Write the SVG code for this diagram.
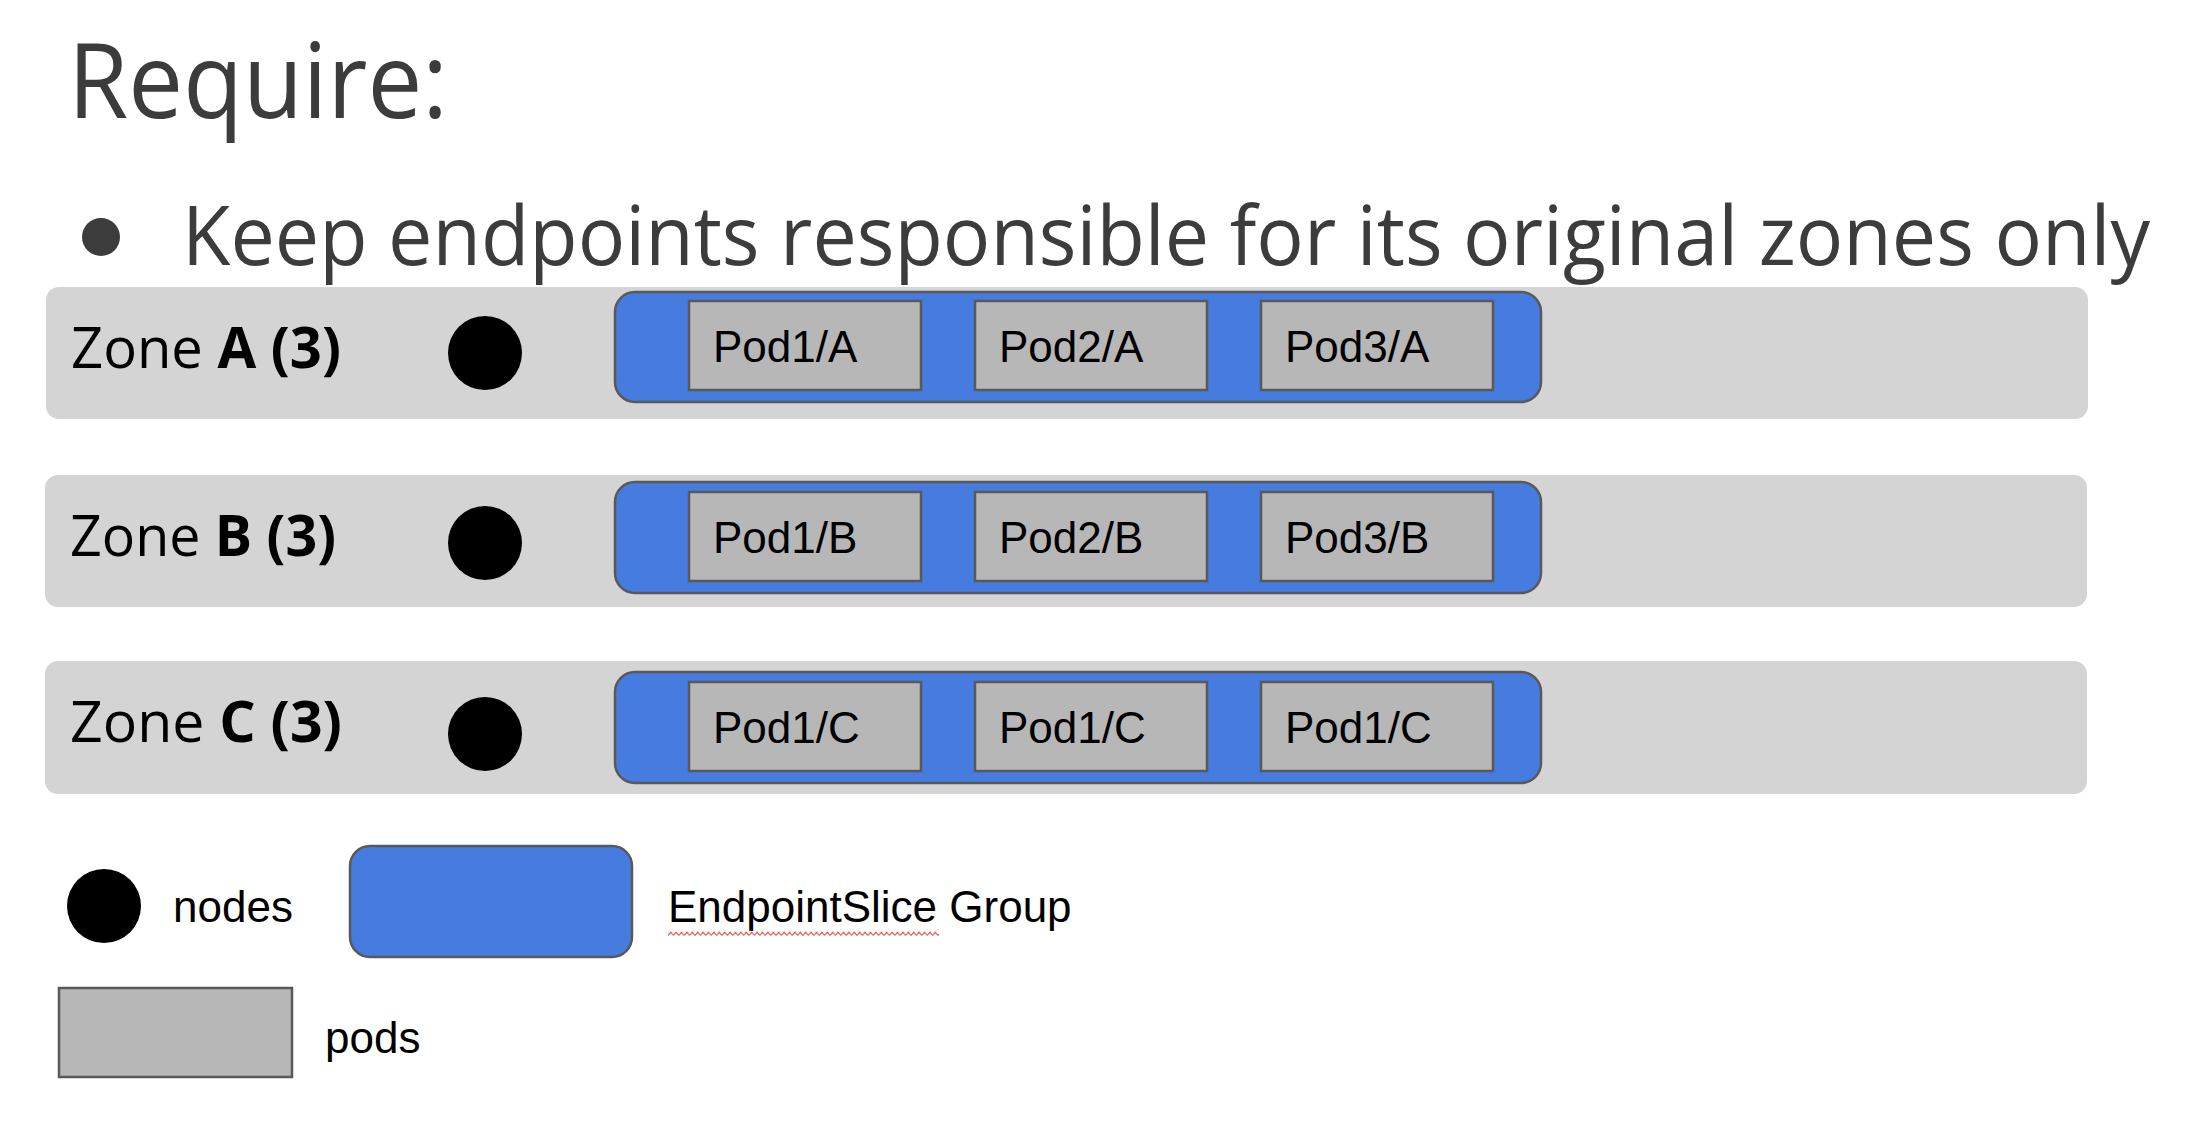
<svg xmlns="http://www.w3.org/2000/svg" width="2198" height="1130" viewBox="0 0 2198 1130">
  <style>
    .heading { font-family: "Open Sans", "Noto Sans", sans-serif; fill: #3c3c3c; }
    .zone { fill: #d4d4d4; }
    .zone-label { font-family: "Open Sans", "Noto Sans", sans-serif; font-size: 57px; fill: #000; }
    .zone-label .b { font-weight: 700; }
    .slice { fill: #467bdf; stroke: #595959; stroke-width: 2.5; }
    .pod { fill: #b7b7b7; stroke: #595959; stroke-width: 2.5; }
    .node { fill: #000; }
    .label { font-family: "Liberation Sans", Arial, sans-serif; font-size: 44px; fill: #000; }
  </style>
  <defs>
    <pattern id="squiggle" patternUnits="userSpaceOnUse" x="668" y="931" width="5.4" height="6">
      <path d="M0,4.5 L2.7,1.2 L5.4,4.5" fill="none" stroke="#e0443a" stroke-width="1.1"/>
    </pattern>
  </defs>

  <rect width="2198" height="1130" fill="#ffffff"/>

  <!-- heading -->
  <text class="heading" x="68" y="118" font-size="104" textLength="380" lengthAdjust="spacingAndGlyphs">Require:</text>
  <circle cx="101" cy="237" r="19" fill="#3c3c3c"/>
  <text class="heading" x="182" y="265" font-size="82" textLength="1968" lengthAdjust="spacingAndGlyphs">Keep endpoints responsible for its original zones only</text>

  <!-- zone A -->
  <g id="zone-a">
    <rect class="zone" x="46" y="287" width="2042" height="132" rx="13"/>
    <text class="zone-label" x="71" y="368" textLength="270" lengthAdjust="spacingAndGlyphs">Zone <tspan class="b">A (3)</tspan></text>
    <circle id="node-a" class="node" cx="485" cy="353" r="37"/>
    <g id="slice-a">
      <rect class="slice" x="615" y="292" width="926" height="110" rx="20"/>
      <g id="pod1-a"><rect class="pod" x="689" y="301" width="232" height="89"/><text class="label" x="713" y="362">Pod1/A</text></g>
      <g id="pod2-a"><rect class="pod" x="975" y="301" width="232" height="89"/><text class="label" x="999" y="362">Pod2/A</text></g>
      <g id="pod3-a"><rect class="pod" x="1261" y="301" width="232" height="89"/><text class="label" x="1285" y="362">Pod3/A</text></g>
    </g>
  </g>

  <!-- zone B -->
  <g id="zone-b">
    <rect class="zone" x="45" y="475" width="2042" height="132" rx="13"/>
    <text class="zone-label" x="70" y="556" textLength="266" lengthAdjust="spacingAndGlyphs">Zone <tspan class="b">B (3)</tspan></text>
    <circle id="node-b" class="node" cx="485" cy="543" r="37"/>
    <g id="slice-b">
      <rect class="slice" x="615" y="482" width="926" height="111" rx="20"/>
      <g id="pod1-b"><rect class="pod" x="689" y="492" width="232" height="89"/><text class="label" x="713" y="553">Pod1/B</text></g>
      <g id="pod2-b"><rect class="pod" x="975" y="492" width="232" height="89"/><text class="label" x="999" y="553">Pod2/B</text></g>
      <g id="pod3-b"><rect class="pod" x="1261" y="492" width="232" height="89"/><text class="label" x="1285" y="553">Pod3/B</text></g>
    </g>
  </g>

  <!-- zone C -->
  <g id="zone-c">
    <rect class="zone" x="45" y="661" width="2042" height="133" rx="13"/>
    <text class="zone-label" x="70" y="742" textLength="272" lengthAdjust="spacingAndGlyphs">Zone <tspan class="b">C (3)</tspan></text>
    <circle id="node-c" class="node" cx="485" cy="734" r="37"/>
    <g id="slice-c">
      <rect class="slice" x="615" y="672" width="926" height="111" rx="20"/>
      <g id="pod1-c1"><rect class="pod" x="689" y="682" width="232" height="89"/><text class="label" x="713" y="743">Pod1/C</text></g>
      <g id="pod1-c2"><rect class="pod" x="975" y="682" width="232" height="89"/><text class="label" x="999" y="743">Pod1/C</text></g>
      <g id="pod1-c3"><rect class="pod" x="1261" y="682" width="232" height="89"/><text class="label" x="1285" y="743">Pod1/C</text></g>
    </g>
  </g>

  <!-- no links between nodes in this figure -->
  <g id="connectors"></g>

  <!-- legend -->
  <g id="legend">
    <g id="legend-nodes">
      <circle class="node" cx="104" cy="906" r="37"/>
      <text class="label" x="173" y="922">nodes</text>
    </g>
    <g id="legend-slice">
      <rect class="slice" x="350" y="846" width="282" height="111" rx="20"/>
      <text class="label" x="668" y="922">EndpointSlice Group</text>
      <rect x="668" y="931" width="271" height="6" fill="url(#squiggle)"/>
    </g>
    <g id="legend-pods">
      <rect class="pod" x="59" y="988" width="233" height="89"/>
      <text class="label" x="325" y="1053">pods</text>
    </g>
  </g>
</svg>
